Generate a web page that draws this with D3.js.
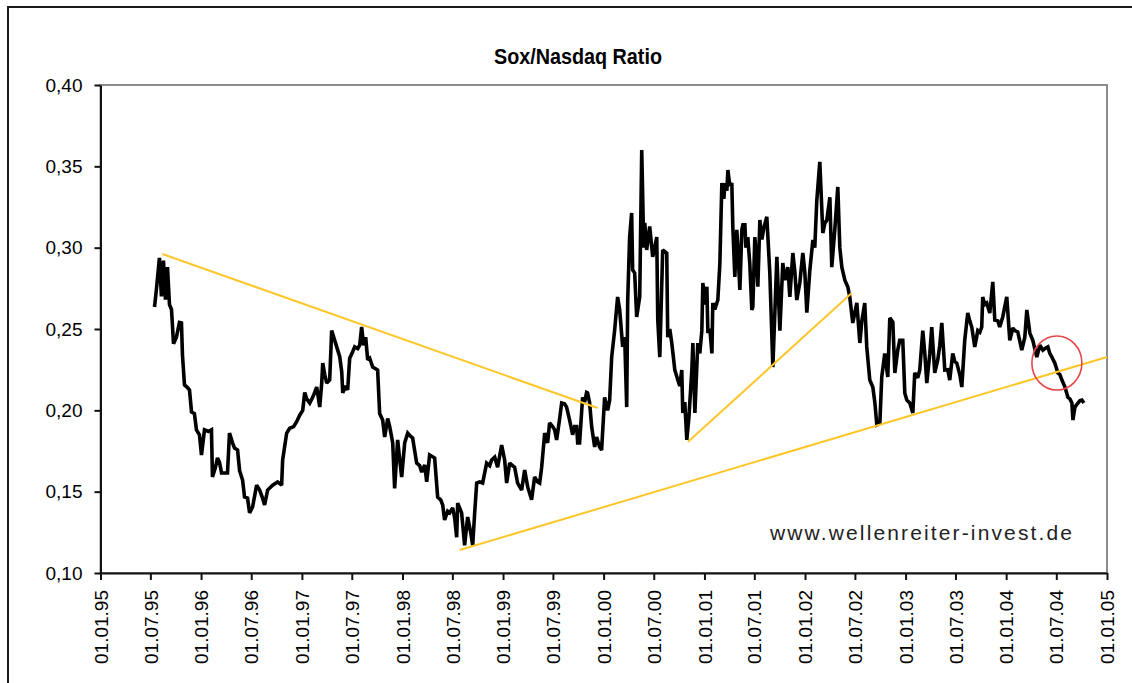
<!DOCTYPE html>
<html>
<head>
<meta charset="utf-8">
<script src="https://cdn.jsdelivr.net/npm/d3@7"></script>
<style>
  html, body { margin: 0; padding: 0; background: #fff; }
  svg { display: block; }
  text { font-family: Arial, "Liberation Sans", sans-serif; fill: #000; }
</style>
</head>
<body>
<svg id="chart" width="1132" height="683"></svg>
<script>
// ---- data (decimal years, ratio values) ----
const years = [
1995.537,1995.557,1995.586,1995.606,1995.626,1995.646,1995.666,1995.686,1995.706,1995.726,
1995.755,1995.785,1995.805,1995.815,1995.835,1995.865,1995.885,1995.905,1995.934,1995.954,
1995.984,1996.004,1996.034,1996.074,1996.103,1996.113,1996.143,1996.163,1996.183,1996.203,
1996.262,1996.282,1996.312,1996.332,1996.362,1996.382,1996.412,1996.431,1996.461,1996.481,
1996.511,1996.551,1996.581,1996.610,1996.630,1996.660,1996.710,1996.759,1996.799,1996.809,
1996.849,1996.879,1996.918,1996.948,1996.978,1997.008,1997.028,1997.048,1997.078,1997.107,
1997.127,1997.147,1997.177,1997.197,1997.207,1997.227,1997.247,1997.276,1997.296,1997.326,
1997.356,1997.376,1997.396,1997.406,1997.435,1997.455,1997.475,1997.505,1997.525,1997.555,
1997.575,1997.594,1997.614,1997.634,1997.654,1997.674,1997.704,1997.753,1997.773,1997.803,
1997.823,1997.853,1997.873,1997.903,1997.922,1997.952,1997.972,1997.992,1998.022,1998.052,
1998.082,1998.101,1998.141,1998.171,1998.191,1998.221,1998.241,1998.270,1998.320,1998.350,
1998.380,1998.400,1998.419,1998.449,1998.469,1998.499,1998.519,1998.539,1998.549,1998.588,
1998.618,1998.648,1998.678,1998.698,1998.718,1998.738,1998.767,1998.797,1998.837,1998.867,
1998.887,1998.917,1998.946,1998.986,1999.016,1999.036,1999.066,1999.095,1999.115,1999.145,
1999.185,1999.215,1999.245,1999.284,1999.314,1999.344,1999.364,1999.384,1999.414,1999.443,
1999.463,1999.493,1999.513,1999.533,1999.563,1999.583,1999.612,1999.632,1999.662,1999.692,
1999.712,1999.732,1999.742,1999.761,1999.791,1999.811,1999.831,1999.841,1999.861,1999.881,
1999.911,1999.930,1999.960,1999.980,2000.010,2000.040,2000.060,2000.080,2000.109,2000.139,
2000.159,2000.189,2000.209,2000.229,2000.239,2000.258,2000.278,2000.288,2000.308,2000.328,
2000.358,2000.378,2000.398,2000.408,2000.427,2000.457,2000.487,2000.507,2000.527,2000.537,
2000.557,2000.586,2000.626,2000.636,2000.656,2000.676,2000.706,2000.736,2000.755,2000.775,
2000.785,2000.805,2000.825,2000.845,2000.875,2000.885,2000.905,2000.934,2000.954,2000.974,
2000.984,2001.004,2001.024,2001.034,2001.054,2001.074,2001.083,2001.103,2001.133,2001.153,
2001.173,2001.193,2001.203,2001.223,2001.233,2001.252,2001.272,2001.282,2001.302,2001.322,
2001.332,2001.352,2001.372,2001.382,2001.402,2001.412,2001.431,2001.451,2001.471,2001.481,
2001.501,2001.521,2001.531,2001.551,2001.571,2001.590,2001.620,2001.650,2001.680,2001.700,
2001.720,2001.750,2001.779,2001.799,2001.829,2001.849,2001.879,2001.899,2001.918,2001.948,
2001.978,2001.998,2002.018,2002.048,2002.078,2002.097,2002.117,2002.147,2002.177,2002.197,
2002.217,2002.247,2002.266,2002.296,2002.326,2002.346,2002.366,2002.396,2002.425,2002.445,
2002.475,2002.515,2002.545,2002.565,2002.594,2002.614,2002.644,2002.674,2002.694,2002.714,
2002.744,2002.763,2002.793,2002.823,2002.843,2002.873,2002.893,2002.922,2002.942,2002.972,
2002.992,2003.012,2003.042,2003.072,2003.091,2003.121,2003.141,2003.171,2003.191,2003.211,
2003.241,2003.260,2003.290,2003.320,2003.340,2003.360,2003.390,2003.419,2003.439,2003.469,
2003.489,2003.509,2003.539,2003.559,2003.588,2003.618,2003.638,2003.658,2003.688,2003.718,
2003.738,2003.757,2003.767,2003.787,2003.807,2003.837,2003.867,2003.887,2003.917,2003.936,
2003.966,2004.006,2004.036,2004.066,2004.085,2004.115,2004.155,2004.185,2004.205,2004.235,
2004.264,2004.304,2004.334,2004.364,2004.384,2004.414,2004.433,2004.453,2004.483,2004.513,
2004.533,2004.553,2004.583,2004.612,2004.632,2004.652,2004.662,2004.682,2004.712,2004.732,
2004.751,2004.771
];
const ratio = [
0.2635,0.275,0.2937,0.270,0.292,0.268,0.288,0.265,0.262,0.241,
0.245,0.254,0.2537,0.234,0.2156,0.214,0.2125,0.199,0.198,0.188,
0.185,0.1725,0.188,0.187,0.188,0.159,0.165,0.1707,0.168,0.1615,
0.1615,0.186,0.180,0.1768,0.1756,0.163,0.157,0.1467,0.146,0.137,
0.1406,0.154,0.151,0.146,0.1418,0.151,0.154,0.156,0.154,0.1695,
0.186,0.189,0.190,0.193,0.197,0.200,0.211,0.207,0.2045,0.208,
0.211,0.2143,0.202,0.2168,0.229,0.222,0.2168,0.2186,0.249,0.243,
0.237,0.233,0.2236,0.2107,0.215,0.2125,0.232,0.236,0.239,0.238,
0.240,0.2512,0.240,0.245,0.231,0.232,0.2266,0.2248,0.198,0.194,
0.1836,0.195,0.190,0.180,0.152,0.1818,0.170,0.159,0.180,0.186,
0.184,0.183,0.1676,0.166,0.162,0.1664,0.156,0.1725,0.1707,0.1467,
0.145,0.1418,0.1326,0.138,0.137,0.140,0.1338,0.122,0.143,0.137,
0.117,0.1344,0.125,0.117,0.137,0.1553,0.156,0.1553,0.1676,0.166,
0.1695,0.1713,0.165,0.1787,0.1695,0.1553,0.1676,0.166,0.165,0.1553,
0.151,0.1633,0.1529,0.145,0.159,0.156,0.1553,0.165,0.186,0.180,
0.1922,0.190,0.188,0.1818,0.195,0.2045,0.204,0.202,0.194,0.185,
0.190,0.190,0.180,0.180,0.208,0.205,0.211,0.2107,0.2045,0.190,
0.1775,0.1836,0.1775,0.1756,0.208,0.200,0.2063,0.2327,0.249,0.2697,
0.262,0.239,0.245,0.202,0.2678,0.3065,0.3213,0.2863,0.2844,0.2574,
0.2697,0.360,0.300,0.3152,0.2986,0.313,0.2943,0.300,0.3065,0.2555,
0.2327,0.2986,0.2967,0.245,0.250,0.2414,0.2248,0.2186,0.215,0.2248,
0.1984,0.205,0.1818,0.195,0.2248,0.2414,0.1984,0.2414,0.235,0.249,
0.2783,0.265,0.276,0.2475,0.250,0.235,0.266,0.262,0.2678,0.290,
0.3397,0.330,0.3397,0.335,0.3477,0.338,0.3397,0.313,0.282,0.311,
0.300,0.274,0.311,0.314,0.314,0.300,0.3065,0.290,0.2617,0.2635,
0.3065,0.290,0.276,0.317,0.305,0.312,0.319,0.2844,0.2266,0.260,
0.2943,0.249,0.2906,0.280,0.288,0.2697,0.2967,0.285,0.2678,0.2783,
0.2967,0.285,0.260,0.2863,0.3047,0.300,0.329,0.3527,0.309,0.315,
0.317,0.331,0.288,0.311,0.3373,0.300,0.288,0.280,0.276,0.2697,
0.2537,0.266,0.2414,0.255,0.266,0.239,0.2186,0.2143,0.205,0.191,
0.192,0.2205,0.235,0.2205,0.2568,0.2543,0.223,0.237,0.243,0.243,
0.2107,0.2063,0.2045,0.1984,0.223,0.220,0.2248,0.249,0.235,0.2168,
0.235,0.2512,0.223,0.231,0.240,0.2537,0.2248,0.225,0.2186,0.235,
0.230,0.229,0.222,0.2143,0.243,0.2598,0.255,0.2512,0.239,0.249,
0.248,0.2512,0.2697,0.265,0.266,0.2598,0.279,0.2555,0.255,0.2512,
0.2574,0.2697,0.243,0.2506,0.249,0.2482,0.237,0.245,0.2617,0.2475,
0.243,0.2328,0.240,0.237,0.238,0.239,0.235,0.2328,0.229,0.223,
0.222,0.2186,0.2143,0.208,0.207,0.2045,0.194,0.202,0.2045,0.206,
0.2063,0.2045
];
// trend lines drawn by the author: start and end points [year, ratio]
const trendFrom = [[1995.616, 0.2961], [1998.569, 0.1141], [2000.835, 0.1805]];
const trendTo   = [[1999.940, 0.2014], [2005.000, 0.2328], [2002.465, 0.2721]];
// highlighted breakout
const markAt = [2004.503, 0.2291];
// axes
const yTicks = [0.10, 0.15, 0.20, 0.25, 0.30, 0.35, 0.40];
const xTickYears = [1995,1995.5,1996,1996.5,1997,1997.5,1998,1998.5,1999,1999.5,2000,
                    2000.5,2001,2001.5,2002,2002.5,2003,2003.5,2004,2004.5,2005];
const title = "Sox/Nasdaq Ratio";
const credit = "www.wellenreiter-invest.de";

// ---- helpers ----
function toDate(dy) {
  const y = Math.floor(dy);
  const a = Date.UTC(y, 0, 1), b = Date.UTC(y + 1, 0, 1);
  if (Math.abs(dy - y - 0.5) < 1e-9) return new Date(Date.UTC(y, 6, 1));
  return new Date(a + (dy - y) * (b - a));
}

const svg = d3.select("#chart");
const W = 1132, H = 683;
const plot = { left: 100.5, right: 1107, top: 85, bottom: 573 };

svg.append("rect").attr("width", W).attr("height", H).attr("fill", "#fff");
// outer chart border (extends beyond visible image)
svg.append("rect").attr("x", 8).attr("y", 7).attr("width", 1300).attr("height", 900)
  .attr("fill", "#fff").attr("stroke", "#1a1a1a").attr("stroke-width", 2);

const x = d3.scaleUtc().domain([toDate(1995), toDate(2005)]).range([plot.left, plot.right]);
const y = d3.scaleLinear().domain([0.10, 0.40]).range([plot.bottom, plot.top]);

// plot area border (gray)
svg.append("rect").attr("x", plot.left).attr("y", plot.top)
  .attr("width", plot.right - plot.left).attr("height", plot.bottom - plot.top)
  .attr("fill", "#fff").attr("stroke", "#8c8c8c").attr("stroke-width", 2);

// title
svg.append("text").attr("x", 578).attr("y", 64).attr("text-anchor", "middle")
  .attr("font-size", 22).attr("font-weight", "bold")
  .attr("textLength", 168).attr("lengthAdjust", "spacingAndGlyphs").text(title);

// y axis
const fmtY = v => d3.format(".2f")(v).replace(".", ",");
const yAxis = svg.append("g").attr("transform", `translate(${plot.left},0)`)
  .call(d3.axisLeft(y).tickValues(yTicks).tickFormat(fmtY).tickSize(6).tickSizeOuter(0).tickPadding(12));
yAxis.select(".domain").attr("stroke", "#111").attr("stroke-width", 2);
yAxis.selectAll(".tick line").attr("stroke", "#111").attr("stroke-width", 2);
yAxis.selectAll(".tick text").attr("font-size", 19).attr("font-family", "Arial, 'Liberation Sans', sans-serif").attr("fill", "#000");

// x axis
const fmtX = d3.utcFormat("%d.%m.%y");
const xAxis = svg.append("g").attr("transform", `translate(0,${plot.bottom})`)
  .call(d3.axisBottom(x).tickValues(xTickYears.map(toDate)).tickFormat(fmtX).tickSize(7).tickSizeOuter(0));
xAxis.select(".domain").attr("stroke", "#111").attr("stroke-width", 2);
xAxis.selectAll(".tick line").attr("stroke", "#111").attr("stroke-width", 2);
xAxis.selectAll(".tick text")
  .attr("font-size", 19).attr("font-family", "Arial, 'Liberation Sans', sans-serif").attr("fill", "#000")
  .attr("text-anchor", "end")
  .attr("transform", "rotate(-90)")
  .attr("x", -17).attr("y", 0).attr("dy", "0.35em");

// series
const series = years.map((yr, i) => ({ date: toDate(yr), value: ratio[i] }));
const line = d3.line().x(d => x(d.date)).y(d => y(d.value));
svg.append("path").datum(series).attr("d", line)
  .attr("fill", "none").attr("stroke", "#000").attr("stroke-width", 3.6)
  .attr("stroke-linejoin", "miter").attr("stroke-miterlimit", 2);

// trend lines
trendFrom.forEach((p, i) => {
  const q = trendTo[i];
  svg.append("line")
    .attr("x1", x(toDate(p[0]))).attr("y1", y(p[1]))
    .attr("x2", x(toDate(q[0]))).attr("y2", y(q[1]))
    .attr("stroke", "#ffc629").attr("stroke-width", 2);
});

// red circle
svg.append("ellipse").attr("cx", x(toDate(markAt[0]))).attr("cy", y(markAt[1]))
  .attr("rx", 25).attr("ry", 27).attr("fill", "none")
  .attr("stroke", "#e8474a").attr("stroke-width", 1.6);

// credit text
svg.append("text").attr("x", 1072).attr("y", 540).attr("text-anchor", "end")
  .attr("font-size", 21).attr("textLength", 302).attr("lengthAdjust", "spacing")
  .style("fill", "#222").text(credit);
</script>
</body>
</html>
